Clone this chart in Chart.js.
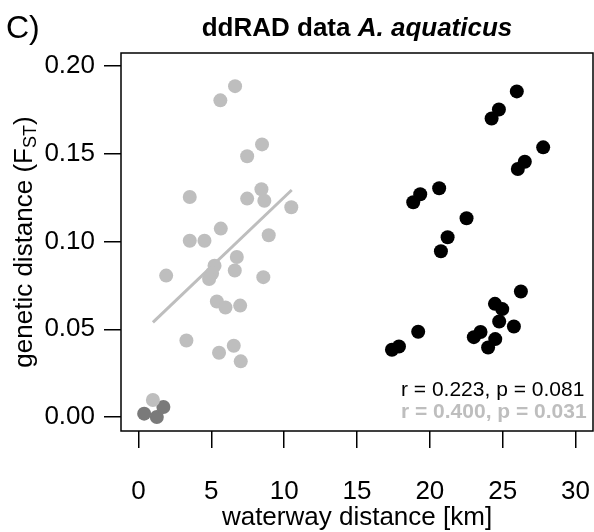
<!DOCTYPE html>
<html>
<head>
<meta charset="utf-8">
<script src="https://cdn.jsdelivr.net/npm/chart.js@4.4.1/dist/chart.umd.min.js"></script>
<style>
  html, body { margin: 0; padding: 0; background: #fff; }
  #wrap { width: 594px; height: 532px; position: relative; }
</style>
</head>
<body>
<div id="wrap"><canvas id="grafico"></canvas></div>
<script>
// pares dentro do grupo (cinza claro)
const cinzaX = [6.63, 5.62, 8.48, 7.46, 3.52, 8.44, 7.46, 8.64, 10.49, 5.65, 3.52, 4.53, 8.94,
                6.75, 5.22, 5.05, 4.85, 6.61, 1.90, 8.57, 5.38, 5.97, 6.98, 3.29, 6.54, 5.53, 7.02, 0.99];
const cinzaY = [0.1886, 0.1805, 0.1554, 0.1486, 0.1254, 0.1298, 0.1245, 0.1233, 0.1196, 0.1074, 0.1005, 0.1005, 0.1036,
                0.0912, 0.0862, 0.0818, 0.0786, 0.0835, 0.0806, 0.0797, 0.0658, 0.0624, 0.0635, 0.0436, 0.0406, 0.0366, 0.0317, 0.0097];
// pares muito próximos (cinza escuro)
const escuroX = [0.39, 1.26, 1.71];
const escuroY = [0.0019, 0.0000, 0.0057];
// pares entre grupos (preto)
const pretoX = [25.97, 24.74, 24.24, 27.78, 26.52, 26.04, 20.64, 19.34, 18.86, 22.52, 21.22, 20.76,
                26.25, 24.47, 24.97, 24.76, 25.77, 19.20, 23.48, 23.02, 24.49, 24.00, 17.88, 17.40];
const pretoY = [0.1856, 0.1753, 0.1702, 0.1537, 0.1455, 0.1414, 0.1304, 0.1270, 0.1224, 0.1133, 0.1025, 0.0945,
                0.0715, 0.0645, 0.0615, 0.0544, 0.0516, 0.0486, 0.0484, 0.0455, 0.0444, 0.0396, 0.0402, 0.0383];
// reta de regressão (cinza)
const retaX = [0.99, 10.52];
const retaY = [0.0539, 0.1294];

const ticksX = [0, 5, 10, 15, 20, 25, 30];
const ticksY = [0, 0.05, 0.10, 0.15, 0.20];

const titulo = "ddRAD data ";
const tituloItalico = "A. aquaticus";
const estatPreto = "r = 0.223, p = 0.081";
const estatCinza = "r = 0.400, p = 0.031";

const FONTE = "'Liberation Sans', Arial, sans-serif";

function pontos(xs, ys) {
    return xs.map((x, i) => ({ x: x, y: ys[i] }));
}

const textos = {
    id: 'textos',
    afterDraw(chart) {
        const ctx = chart.ctx;
        const area = chart.chartArea;
        ctx.save();

        // caixa
        ctx.strokeStyle = '#000';
        ctx.lineWidth = 1.5;
        ctx.strokeRect(area.left, area.top, area.right - area.left, area.bottom - area.top);

        ctx.fillStyle = '#000';
        ctx.textBaseline = 'alphabetic';

        // C)
        ctx.font = "32px " + FONTE;
        ctx.textAlign = 'left';
        ctx.fillText("C)", 6, 38);

        // titulo
        ctx.font = "bold 26px " + FONTE;
        const w1 = ctx.measureText(titulo).width;
        ctx.font = "italic bold 26px " + FONTE;
        const w2 = ctx.measureText(tituloItalico).width;
        const cx = (area.left + area.right) / 2;
        let x0 = cx - (w1 + w2) / 2;
        ctx.font = "bold 26px " + FONTE;
        ctx.fillText(titulo, x0, 36);
        ctx.font = "italic bold 26px " + FONTE;
        ctx.fillText(tituloItalico, x0 + w1, 36);

        // titulo eixo x
        ctx.font = "26px " + FONTE;
        ctx.textAlign = 'center';
        ctx.fillText("waterway distance [km]", cx, 525);

        // titulo eixo y com subscrito
        const parte1 = "genetic distance (F";
        const sub = "ST";
        const parte3 = ")";
        ctx.font = "26px " + FONTE;
        const a = ctx.measureText(parte1).width;
        const c = ctx.measureText(parte3).width;
        ctx.font = "18px " + FONTE;
        const b = ctx.measureText(sub).width;
        const total = a + b + c;
        ctx.translate(32, (area.top + area.bottom) / 2);
        ctx.rotate(-Math.PI / 2);
        ctx.textAlign = 'left';
        ctx.font = "26px " + FONTE;
        ctx.fillText(parte1, -total / 2, 0);
        ctx.font = "18px " + FONTE;
        ctx.fillText(sub, -total / 2 + a, 4);
        ctx.font = "26px " + FONTE;
        ctx.fillText(parte3, -total / 2 + a + b, 0);
        ctx.restore();

        // estatisticas
        ctx.save();
        ctx.textAlign = 'left';
        ctx.font = "21px " + FONTE;
        ctx.fillStyle = '#000';
        ctx.fillText(estatPreto, 401, 396);
        ctx.font = "bold 21px " + FONTE;
        ctx.fillStyle = '#bebebe';
        ctx.fillText(estatCinza, 401, 418);
        ctx.restore();
    }
};

window.onload = function () {

    const grafico = document.getElementById('grafico');

    new Chart(grafico, {
        type: 'scatter',
        data: {
            datasets: [
                {
                    label: 'dentro',
                    data: pontos(cinzaX, cinzaY),
                    backgroundColor: '#bebebe',
                    borderWidth: 0,
                    pointRadius: 7
                },
                {
                    type: 'line',
                    label: 'reta',
                    data: pontos(retaX, retaY),
                    borderColor: '#bebebe',
                    borderWidth: 3,
                    pointRadius: 0,
                    fill: false
                },
                {
                    label: 'proximos',
                    data: pontos(escuroX, escuroY),
                    backgroundColor: '#7a7a7a',
                    borderWidth: 0,
                    pointRadius: 7
                },
                {
                    label: 'entre',
                    data: pontos(pretoX, pretoY),
                    backgroundColor: '#000',
                    borderWidth: 0,
                    pointRadius: 7
                }
            ]
        },
        options: {
            responsive: true,
            maintainAspectRatio: false,
            animation: false,
            layout: { autoPadding: false, padding: { top: 53, right: 1, left: 0, bottom: 0 } },
            plugins: {
                legend: { display: false },
                tooltip: { enabled: false },
                title: { display: false }
            },
            scales: {
                x: {
                    type: 'linear',
                    min: -1.2,
                    max: 31.2,
                    afterBuildTicks: (escala) => { escala.ticks = ticksX.map((v) => ({ value: v })); },
                    afterFit: (escala) => {
                        escala.height = 101;
                        escala.paddingLeft = 0;
                        escala.paddingRight = 0;
                    },
                    grid: { drawOnChartArea: false, drawTicks: true, tickLength: 17, color: '#000', lineWidth: 1.5 },
                    border: { display: false },
                    ticks: {
                        color: '#000',
                        padding: 28,
                        maxRotation: 0,
                        font: { family: FONTE, size: 26 },
                        callback: (v) => String(v)
                    }
                },
                y: {
                    type: 'linear',
                    min: -0.008,
                    max: 0.2075,
                    afterBuildTicks: (escala) => { escala.ticks = ticksY.map((v) => ({ value: v })); },
                    afterFit: (escala) => {
                        escala.width = 121;
                        escala.paddingTop = 0;
                        escala.paddingBottom = 0;
                    },
                    grid: { drawOnChartArea: false, drawTicks: true, tickLength: 17, color: '#000', lineWidth: 1.5 },
                    border: { display: false },
                    ticks: {
                        color: '#000',
                        padding: 9,
                        font: { family: FONTE, size: 26 },
                        callback: (v) => Number(v).toFixed(2)
                    }
                }
            }
        },
        plugins: [textos]
    });

}
</script>
</body>
</html>
